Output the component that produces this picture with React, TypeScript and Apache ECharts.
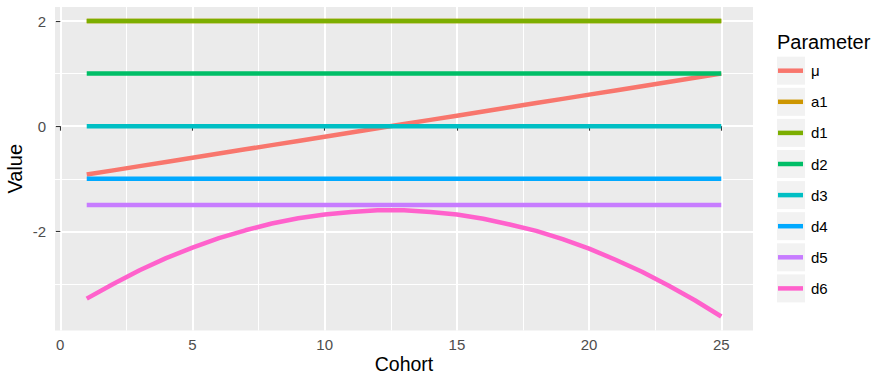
import React, { useEffect, useRef } from "react";
import * as echarts from "echarts";

const cohorts = [1, 2, 3, 4, 5, 6, 7, 8, 9, 10, 11, 12, 13, 14, 15, 16, 17, 18, 19, 20, 21, 22, 23, 24, 25];
const muValues = [-0.92, -0.84, -0.76, -0.68, -0.6, -0.52, -0.44, -0.36, -0.28, -0.2, -0.12, -0.04, 0.04, 0.12, 0.2, 0.28, 0.36, 0.44, 0.52, 0.6, 0.68, 0.76, 0.84, 0.92, 1.0];
const a1Values = [2, 2, 2, 2, 2, 2, 2, 2, 2, 2, 2, 2, 2, 2, 2, 2, 2, 2, 2, 2, 2, 2, 2, 2, 2];
const d1Values = [2, 2, 2, 2, 2, 2, 2, 2, 2, 2, 2, 2, 2, 2, 2, 2, 2, 2, 2, 2, 2, 2, 2, 2, 2];
const d2Values = [1, 1, 1, 1, 1, 1, 1, 1, 1, 1, 1, 1, 1, 1, 1, 1, 1, 1, 1, 1, 1, 1, 1, 1, 1];
const d3Values = [0, 0, 0, 0, 0, 0, 0, 0, 0, 0, 0, 0, 0, 0, 0, 0, 0, 0, 0, 0, 0, 0, 0, 0, 0];
const d4Values = [-1, -1, -1, -1, -1, -1, -1, -1, -1, -1, -1, -1, -1, -1, -1, -1, -1, -1, -1, -1, -1, -1, -1, -1, -1];
const d5Values = [-1.5, -1.5, -1.5, -1.5, -1.5, -1.5, -1.5, -1.5, -1.5, -1.5, -1.5, -1.5, -1.5, -1.5, -1.5, -1.5, -1.5, -1.5, -1.5, -1.5, -1.5, -1.5, -1.5, -1.5, -1.5];
const d6Values = [-3.28, -3.0, -2.74, -2.51, -2.31, -2.13, -1.98, -1.85, -1.75, -1.68, -1.63, -1.6, -1.6, -1.63, -1.68, -1.76, -1.87, -1.99, -2.15, -2.33, -2.54, -2.77, -3.03, -3.31, -3.62];

const parameterNames = ["μ", "a1", "d1", "d2", "d3", "d4", "d5", "d6"];
const parameterValues = [muValues, a1Values, d1Values, d2Values, d3Values, d4Values, d5Values, d6Values];
const parameterColors = ["#F8766D", "#CD9600", "#7CAE00", "#00BE67", "#00BFC4", "#00A9FF", "#C77CFF", "#FF61CC"];

const xTicks = [0, 5, 10, 15, 20, 25];
const xMinor = [2.5, 7.5, 12.5, 17.5, 22.5];
const yTicks = [-2, 0, 2];
const yMinor = [-3, -1, 1];

const FONT = "'Liberation Sans', Arial, Helvetica, sans-serif";

export default function App() {
  const ref = useRef<HTMLDivElement>(null);

  useEffect(() => {
    if (!ref.current) return;
    const chart = echarts.init(ref.current, null, { renderer: "svg" });

    const legendTop = 62.7;
    const rowStep = 31.1;
    const keyRects = parameterNames.map((_, i) => ({
      type: "rect",
      z: 0,
      shape: { x: 777, y: legendTop + 8 + i * rowStep - 14, width: 28, height: 28 },
      style: { fill: "#F2F2F2" },
      silent: true,
    }));

    const dataSeries = parameterNames.map((name, i) => ({
      name,
      type: "line",
      data: cohorts.map((c, j) => [c, parameterValues[i][j]]),
      showSymbol: false,
      symbol: "none",
      smooth: false,
      lineStyle: { color: parameterColors[i], width: 4.5, cap: "butt" },
      itemStyle: { color: parameterColors[i] },
      z: 3,
      silent: true,
    }));

    const option: any = {
      animation: false,
      backgroundColor: "#FFFFFF",
      textStyle: { fontFamily: FONT },
      grid: {
        left: 55,
        top: 7,
        right: 122,
        bottom: 44.5,
        show: true,
        backgroundColor: "#EBEBEB",
        borderWidth: 0,
        containLabel: false,
        outerBoundsMode: "none",
      },
      xAxis: {
        type: "value",
        min: -0.2,
        max: 26.2,
        name: "Cohort",
        nameLocation: "middle",
        nameGap: 24,
        nameMoveOverlap: false,
        nameTextStyle: { fontSize: 19.5, lineHeight: 19, color: "#000000", fontFamily: FONT },
        axisLine: { show: false },
        axisTick: {
          show: true,
          customValues: xTicks,
          length: 4.5,
          lineStyle: { color: "#333333", width: 1.1 },
        },
        axisLabel: {
          show: true,
          customValues: xTicks,
          margin: 6.5,
          fontSize: 15,
          color: "#4D4D4D",
          fontFamily: FONT,
        },
        splitLine: { show: true, lineStyle: { color: "#FFFFFF", width: 2 } },
        minorTick: { show: false },
        minorSplitLine: { show: false },
      },
      yAxis: {
        type: "value",
        min: -3.886,
        max: 2.267,
        name: "Value",
        nameLocation: "middle",
        nameGap: 30,
        nameMoveOverlap: false,
        nameRotate: 90,
        nameTextStyle: { fontSize: 20, lineHeight: 20, color: "#000000", fontFamily: FONT },
        axisLine: { show: false },
        axisTick: {
          show: true,
          customValues: yTicks,
          length: 4.5,
          lineStyle: { color: "#333333", width: 1.1 },
        },
        axisLabel: {
          show: true,
          customValues: yTicks,
          margin: 9,
          fontSize: 15,
          color: "#4D4D4D",
          fontFamily: FONT,
        },
        splitLine: { show: true, lineStyle: { color: "#FFFFFF", width: 2 } },
        minorTick: { show: false },
        minorSplitLine: { show: false },
      },
      legend: {
        show: true,
        data: parameterNames,
        orient: "vertical",
        left: 778,
        top: legendTop,
        padding: 0,
        icon: "rect",
        itemWidth: 25,
        itemHeight: 4.5,
        itemGap: rowStep - 16,
        selectedMode: false,
        itemStyle: { borderWidth: 0 },
        textStyle: {
          fontSize: 15,
          color: "#000000",
          fontFamily: FONT,
          lineHeight: 16,
          padding: [0, 0, 0, 3],
        },
      },
      graphic: [
        ...keyRects,
        {
          type: "text",
          x: 777,
          y: 41.7,
          z: 1,
          silent: true,
          style: {
            text: "Parameter",
            fontSize: 20,
            fontFamily: FONT,
            fill: "#000000",
            verticalAlign: "middle",
            align: "left",
          },
        },
      ],
      series: [
        {
          name: "__minorGrid",
          type: "line",
          data: [],
          z: 1,
          silent: true,
          markLine: {
            z: 1,
            zlevel: 0,
            silent: true,
            symbol: ["none", "none"],
            label: { show: false },
            emphasis: { disabled: true },
            lineStyle: { color: "#FFFFFF", width: 1, type: "solid" },
            data: [
              ...xMinor.map((v) => ({ xAxis: v })),
              ...yMinor.map((v) => ({ yAxis: v })),
            ],
          },
        },
        ...dataSeries,
      ],
    };

    chart.setOption(option);
    return () => {
      chart.dispose();
    };
  }, []);

  return (
    <div
      ref={ref}
      style={{ position: "absolute", left: 0, top: 0, width: 875, height: 375 }}
    />
  );
}
